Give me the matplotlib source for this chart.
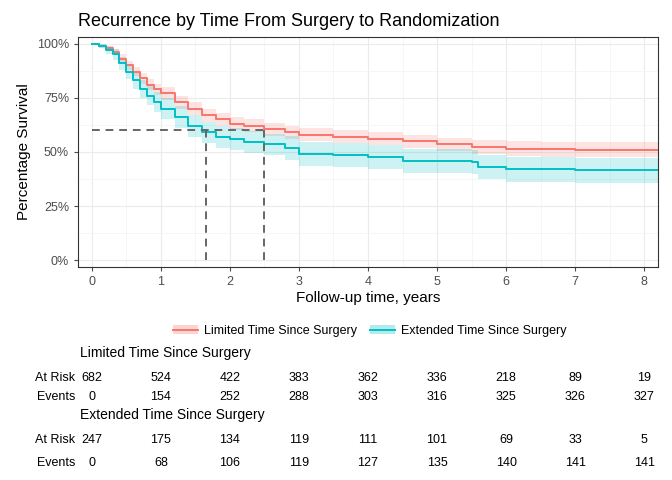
import matplotlib.pyplot as plt
import matplotlib.transforms as mtransforms
from matplotlib.patches import Patch
from matplotlib.lines import Line2D
import numpy as np

plt.rcParams['font.family'] = ['Liberation Sans', 'DejaVu Sans']

limited_t = [0, 0.1, 0.2, 0.3, 0.4, 0.5, 0.6, 0.7, 0.8, 0.9, 1.0, 1.2, 1.4, 1.6, 1.8, 2.0, 2.2, 2.5, 2.8, 3.0, 3.5, 4.0, 4.5, 5.0, 5.5, 6.0, 6.5, 7.0, 8.2]
limited_s = [100, 99, 98, 96, 93, 90, 87, 84, 81, 79, 77, 73, 70, 67, 65, 63, 62, 60.5, 59, 58, 57, 56, 55, 53.5, 52.5, 51.5, 51.3, 51, 51]
limited_w = [0, 1, 1, 1.5, 2, 2, 2, 2.5, 2.5, 2.5, 3, 3, 3, 3, 3, 3, 3, 3, 3, 3, 3, 3, 3, 3, 3.2, 3.4, 3.5, 3.5, 3.5]
extended_t = [0, 0.1, 0.2, 0.3, 0.4, 0.5, 0.6, 0.7, 0.8, 0.9, 1.0, 1.2, 1.4, 1.6, 1.8, 2.0, 2.2, 2.5, 2.8, 3.0, 3.5, 4.0, 4.5, 5.0, 5.5, 5.6, 6.0, 7.0, 8.2]
extended_s = [100, 99, 97, 95, 91, 87, 83, 79, 76, 73, 70, 66, 62, 59, 57, 56, 54.5, 53.5, 52, 49, 48.5, 47.5, 46, 46, 45.5, 43, 42, 41.5, 41.5]
extended_w = [0, 1, 2, 2.5, 3, 3.5, 4, 4, 4.5, 4.5, 5, 5, 5, 5, 5, 5, 5, 5, 5.5, 5.5, 5.5, 5.5, 5.5, 5.5, 5.5, 5.5, 5.7, 5.8, 5.8]

median_limited = 2.5
median_extended = 1.65

times = [0, 1, 2, 3, 4, 5, 6, 7, 8]
limited_risk = [682, 524, 422, 383, 362, 336, 218, 89, 19]
limited_events = [0, 154, 252, 288, 303, 316, 325, 326, 327]
extended_risk = [247, 175, 134, 119, 111, 101, 69, 33, 5]
extended_events = [0, 68, 106, 119, 127, 135, 140, 141, 141]

red, teal = '#F8766D', '#00BFC4'

fig = plt.figure(figsize=(6.72, 4.8), dpi=100)
ax = fig.add_axes([78 / 672, 1 - 267 / 480, 580 / 672, 230 / 480])

for t, s, w, c in [(limited_t, limited_s, limited_w, red), (extended_t, extended_s, extended_w, teal)]:
    t, s, w = np.array(t), np.array(s), np.array(w)
    ax.fill_between(t, s - w, np.minimum(s + w, 100), step='post', color=c, alpha=0.2, lw=0)
    ax.step(t, s, where='post', color=c, lw=1.4)

ax.plot([0, median_limited], [60, 60], ls=(0, (4, 3)), color='#666666', lw=1.4)
ax.plot([median_extended] * 2, [0, 60], ls=(0, (4, 3)), color='#666666', lw=1.4)
ax.plot([median_limited] * 2, [0, 60], ls=(0, (4, 3)), color='#666666', lw=1.4)

ax.set_xlim(-0.2, 8.2)
ax.set_ylim(-3, 103)
ax.set_xticks(times)
ax.set_yticks([0, 25, 50, 75, 100])
ax.set_yticklabels(['0%', '25%', '50%', '75%', '100%'])
ax.set_xticks(np.arange(0.5, 8.5, 1), minor=True)
ax.set_yticks([12.5, 37.5, 62.5, 87.5], minor=True)
ax.grid(which='major', color='#EBEBEB', lw=0.8)
ax.grid(which='minor', color='#F3F3F3', lw=0.5)
ax.set_axisbelow(True)
ax.tick_params(colors='#4D4D4D', labelsize=9, length=3)
ax.tick_params(which='minor', length=0)
for sp in ax.spines.values():
    sp.set_color('#333333')
ax.set_xlabel('Follow-up time, years', fontsize=11, labelpad=2)
ax.set_ylabel('Percentage Survival', fontsize=11)
ax.set_title('Recurrence by Time From Surgery to Randomization', fontsize=13, loc='left', x=0.0, pad=8)

handles = [(Patch(color=red, alpha=0.3, lw=0), Line2D([], [], color=red, lw=1.4)),
           (Patch(color=teal, alpha=0.3, lw=0), Line2D([], [], color=teal, lw=1.4))]
fig.legend(handles, ['Limited Time Since Surgery', 'Extended Time Since Surgery'],
           loc='center', bbox_to_anchor=(370 / 672, 1 - 331 / 480), ncol=2, frameon=False,
           fontsize=9, handlelength=2, columnspacing=1, handletextpad=0.5)

trans = mtransforms.blended_transform_factory(ax.transData, fig.transFigure)
def fy(px):
    return 1 - px / 480

def row(label, vals, y):
    fig.text(75 / 672, fy(y), label, ha='right', va='center', fontsize=9)
    for t, v in zip(times, vals):
        fig.text(t, fy(y), str(v), ha='center', va='center', fontsize=9, transform=trans)

fig.text(80 / 672, fy(353), 'Limited Time Since Surgery', ha='left', va='center', fontsize=10)
row('At Risk', limited_risk, 378)
row('Events', limited_events, 397)
fig.text(80 / 672, fy(415), 'Extended Time Since Surgery', ha='left', va='center', fontsize=10)
row('At Risk', extended_risk, 440)
row('Events', extended_events, 463)

fig.savefig('out.png', dpi=100)
